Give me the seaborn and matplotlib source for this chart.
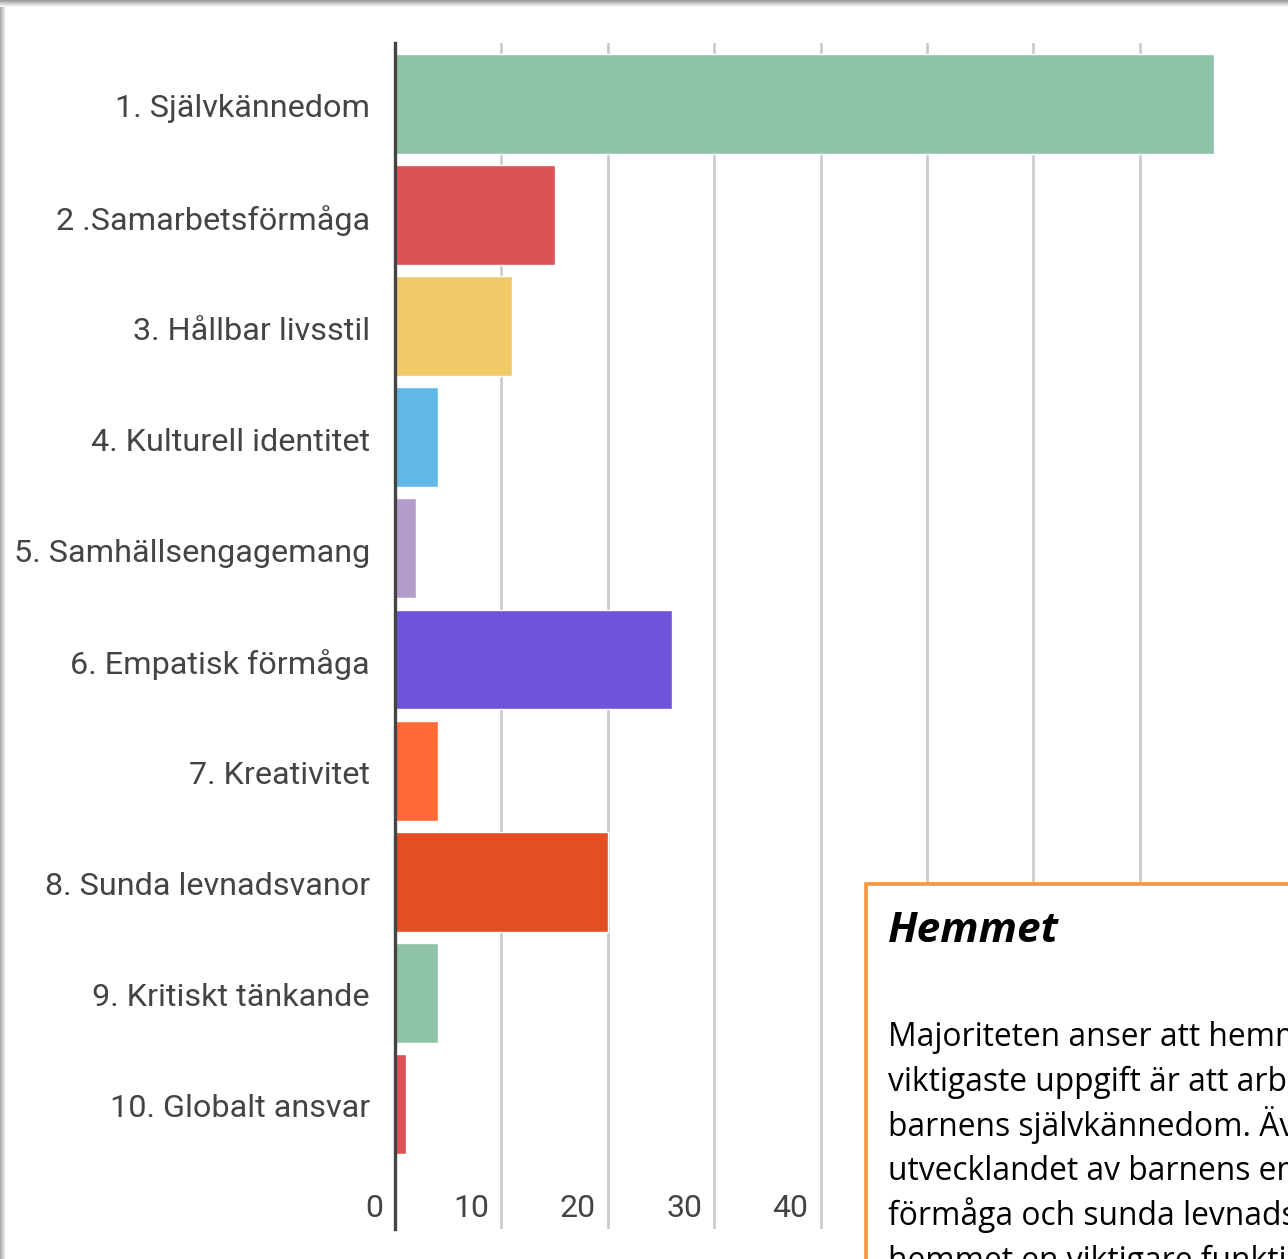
import matplotlib
matplotlib.use("Agg")
import matplotlib.pyplot as plt
import matplotlib.transforms as mtransforms
from matplotlib.patches import Rectangle
import seaborn as sns

# data
categories = ["1. Självkännedom", "2 .Samarbetsförmåga", "3. Hållbar livsstil",
              "4. Kulturell identitet", "5. Samhällsengagemang", "6. Empatisk förmåga",
              "7. Kreativitet", "8. Sunda levnadsvanor", "9. Kritiskt tänkande",
              "10. Globalt ansvar"]
values = [77, 15, 11, 4, 2, 26, 4, 20, 4, 1]
colors = ["#8EC3A7", "#DC5356", "#F0CA68", "#62B8E5", "#B29DCB",
          "#6F54DA", "#FF6A37", "#E34E22", "#8EC3A7", "#DC5356"]
xticks = [0, 10, 20, 30, 40, 50, 60, 70]
xtick_labels = ["0", "10", "20", "30", "40", "", "", ""]  # the rest sit under the text box

box_title = "Hemmet"
box_lines = ["Majoriteten anser att hemmets",
             "viktigaste uppgift är att arbeta med",
             "barnens självkännedom. Även",
             "utvecklandet av barnens empatiska",
             "förmåga och sunda levnadsvanor",
             "hemmet en viktigare funktion"]

sns.set_style("white")
plt.rcParams['font.family'] = ['Roboto', 'DejaVu Sans']

W, H = 1288, 1259
fig = plt.figure(figsize=(W / 100, H / 100), dpi=100)
fig.patch.set_facecolor("white")

ax = fig.add_axes([395 / W, 1 - 1229 / H, (1246 - 395) / W, (1229 - 43) / H])
sns.barplot(x=values, y=categories, hue=categories, palette=colors, orient="h",
            width=0.9, legend=False, ax=ax, saturation=1)

ax.set_xlim(0, 80)
ax.set_ylim(10.126, -0.549)
ax.set_axisbelow(True)
ax.grid(axis="x", color="#cccccc", lw=2)
ax.grid(axis="y", visible=False)
for s in ["top", "right", "bottom"]:
    ax.spines[s].set_visible(False)
ax.spines["left"].set_color("#444444")
ax.spines["left"].set_linewidth(2.4)
ax.set_xlabel("")
ax.set_ylabel("")

ax.set_xticks(xticks)
ax.set_xticklabels(xtick_labels, fontsize=23, color="#444444")
ax.tick_params(axis="x", length=0, pad=-25)
ax.tick_params(axis="y", length=0, pad=18, labelsize=23.3, labelcolor="#444444")
offset = mtransforms.ScaledTranslation(-12 / 100, 0, fig.dpi_scale_trans)
for lab in ax.get_xticklabels():
    lab.set_ha("right")
    lab.set_transform(lab.get_transform() + offset)
for lab in ax.get_yticklabels():
    lab.set_transform(lab.get_transform() + mtransforms.ScaledTranslation(0, -2 / 100, fig.dpi_scale_trans))

# screenshot shadow frame
for i, g in enumerate([0.62, 0.68, 0.74, 0.80, 0.86, 0.92, 0.96]):
    fig.add_artist(Rectangle((0, 1 - (i + 1) / H), 1, 1 / H, transform=fig.transFigure,
                             color=str(g), lw=0, zorder=20))
    fig.add_artist(Rectangle((i / W, 0), 1 / W, 1 - 7 / H, transform=fig.transFigure,
                             color=str(min(g + 0.05, 1)), lw=0, zorder=20))

# orange text box overlay
fig.add_artist(Rectangle((866 / W, -0.1), 0.5, 1.1 - 884 / H, transform=fig.transFigure,
                         facecolor="white", edgecolor="#F7963F", lw=2.6, zorder=30))
fig.text(888 / W, 1 - 942 / H, box_title, fontsize=30.5, fontweight="bold", style="italic",
         family=["Open Sans", "DejaVu Sans"], color="black", va="baseline", zorder=31)
for k, line in enumerate(box_lines):
    fig.text(888 / W, 1 - (1046 + 44.8 * k) / H, line, fontsize=22.9,
             family=["Open Sans", "DejaVu Sans"], color="black", va="baseline", zorder=31)

fig.savefig("out.png", dpi=100)
